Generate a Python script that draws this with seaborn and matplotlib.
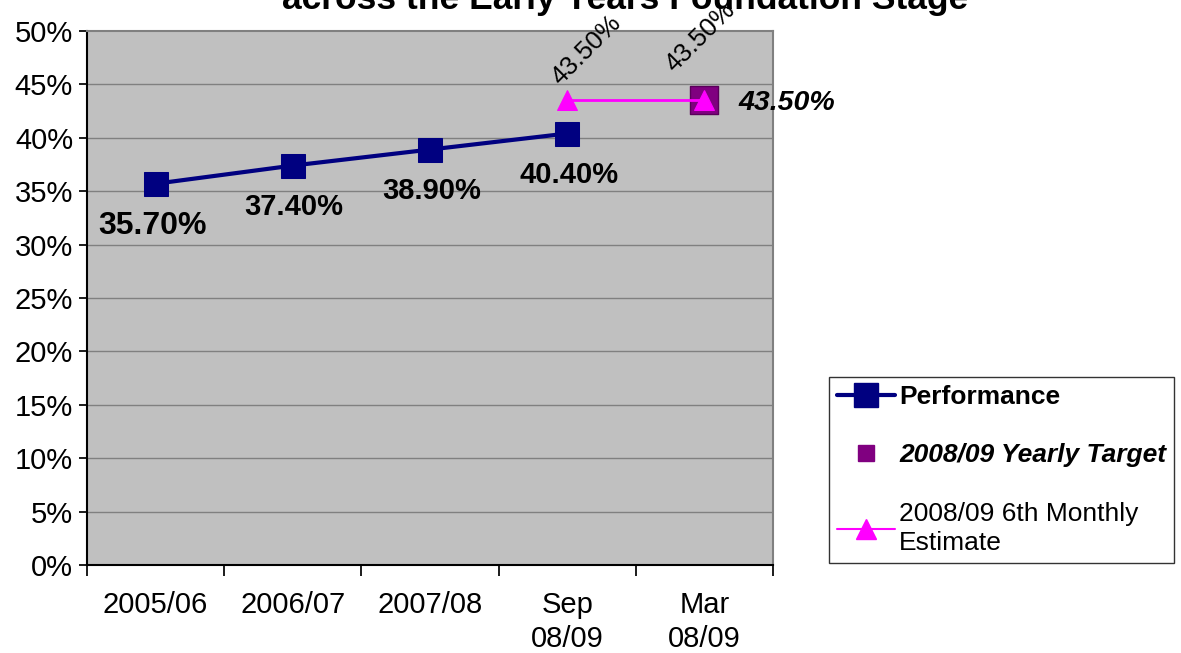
import matplotlib
matplotlib.use("Agg")
import matplotlib.pyplot as plt
from matplotlib.lines import Line2D
import seaborn as sns
import pandas as pd

categories = ["2005/06", "2006/07", "2007/08", "Sep\n08/09", "Mar\n08/09"]
performance = [35.7, 37.4, 38.9, 40.4]
estimate = [43.5, 43.5]
target = [43.5]
yticks = [0, 5, 10, 15, 20, 25, 30, 35, 40, 45, 50]

sns.set_theme(style="white")
plt.rcParams["font.family"] = ["Liberation Sans", "DejaVu Sans"]
plt.rcParams["text.color"] = "black"
plt.rcParams["xtick.color"] = "black"
plt.rcParams["ytick.color"] = "black"

fig = plt.figure(figsize=(11.81, 6.53), dpi=100)
ax = fig.add_axes([87 / 1181, 1 - 565 / 653, 686 / 1181, 534 / 653])
ax.set_facecolor("#C0C0C0")

pos = list(range(len(categories)))
perf_df = pd.DataFrame({"x": pos[:len(performance)], "y": performance})
est_df = pd.DataFrame({"x": pos[3:3 + len(estimate)], "y": estimate})
tgt_df = pd.DataFrame({"x": pos[4:5], "y": target})

for v in yticks[1:-1]:
    ax.axhline(v, color="#808080", lw=1, zorder=0)

sns.lineplot(data=perf_df, x="x", y="y", ax=ax, color="#000080", lw=3,
             marker="s", markersize=17, markeredgecolor="#000080", zorder=3)
sns.scatterplot(data=tgt_df, x="x", y="y", ax=ax, color="#800080", marker="s",
                s=410, edgecolor="#5a005a", linewidth=1, zorder=3)
sns.lineplot(data=est_df, x="x", y="y", ax=ax, color="#FF00FF", lw=2,
             marker="^", markersize=15, markeredgecolor="#FF00FF", zorder=4)

# data labels
for i, v in enumerate(performance):
    fs = 23 if i == 0 else 21
    dy = 4.0 if i == 0 else 3.9
    ax.text(pos[i] - (0.02 if i == 0 else -0.01), v - dy, f"{v:.2f}%", fontsize=fs,
            fontweight="bold", ha="center", va="center")
est_off = [(0.14, 4.75), (-0.03, 5.9)]
for i, v in enumerate(estimate):
    dx, dy = est_off[i]
    ax.text(pos[3 + i] + dx, v + dy, f"{v:.2f}%", fontsize=18.5, rotation=45,
            ha="center", va="center", clip_on=False)
ax.text(pos[4] + 0.6, target[0] - 0.2, f"{target[0]:.2f}%", fontsize=20.5, fontweight="bold",
        fontstyle="italic", ha="center", va="center", clip_on=False)

ax.set_xlim(-0.5, len(categories) - 0.5)
ax.set_ylim(0, 50)
ax.set_yticks(yticks)
ax.set_yticklabels([f"{v}%" for v in yticks], fontsize=21)
ax.set_xticks([p - 0.5 for p in pos] + [pos[-1] + 0.5])
ax.set_xticklabels([])
ax.set_xticks(pos, minor=True)
ax.set_xticklabels(categories, minor=True, fontsize=21, linespacing=1.25)
ax.tick_params(axis="x", which="major", direction="out", length=8, bottom=True)
ax.tick_params(axis="x", which="minor", length=0, pad=19)
ax.tick_params(axis="y", direction="out", length=6, left=True, pad=4)
ax.set_xlabel("")
ax.set_ylabel("")
for s in ax.spines.values():
    s.set_color("#808080")
    s.set_linewidth(1.5)
ax.spines["left"].set_color("black")
ax.spines["bottom"].set_color("black")

fig.text(625 / 1181, 1 - 9 / 653, "across the Early Years Foundation Stage", fontsize=25.5,
         fontweight="bold", ha="center", va="baseline")

handles = [
    Line2D([], [], color="#000080", lw=3, marker="s", markersize=17),
    Line2D([], [], color="#800080", lw=0, marker="s", markersize=11.5),
    Line2D([], [], color="#FF00FF", lw=1.5, marker="^", markersize=14),
]
labels = ["Performance", "2008/09 Yearly Target", "2008/09 6th Monthly\nEstimate"]
leg = fig.legend(handles, labels, loc="upper left", bbox_to_anchor=(829 / 1181, 1 - 377 / 653),
                 fontsize=19, frameon=True, fancybox=False, edgecolor="black",
                 handlelength=2.2, handletextpad=0.15, labelspacing=1.3, borderpad=0.3,
                 borderaxespad=0)
leg.get_frame().set_linewidth(1)
texts = leg.get_texts()
texts[0].set_fontweight("bold")
texts[1].set_fontweight("bold")
texts[1].set_fontstyle("italic")
texts[2].set_linespacing(1.3)

fig.savefig("out.png", dpi=100)
